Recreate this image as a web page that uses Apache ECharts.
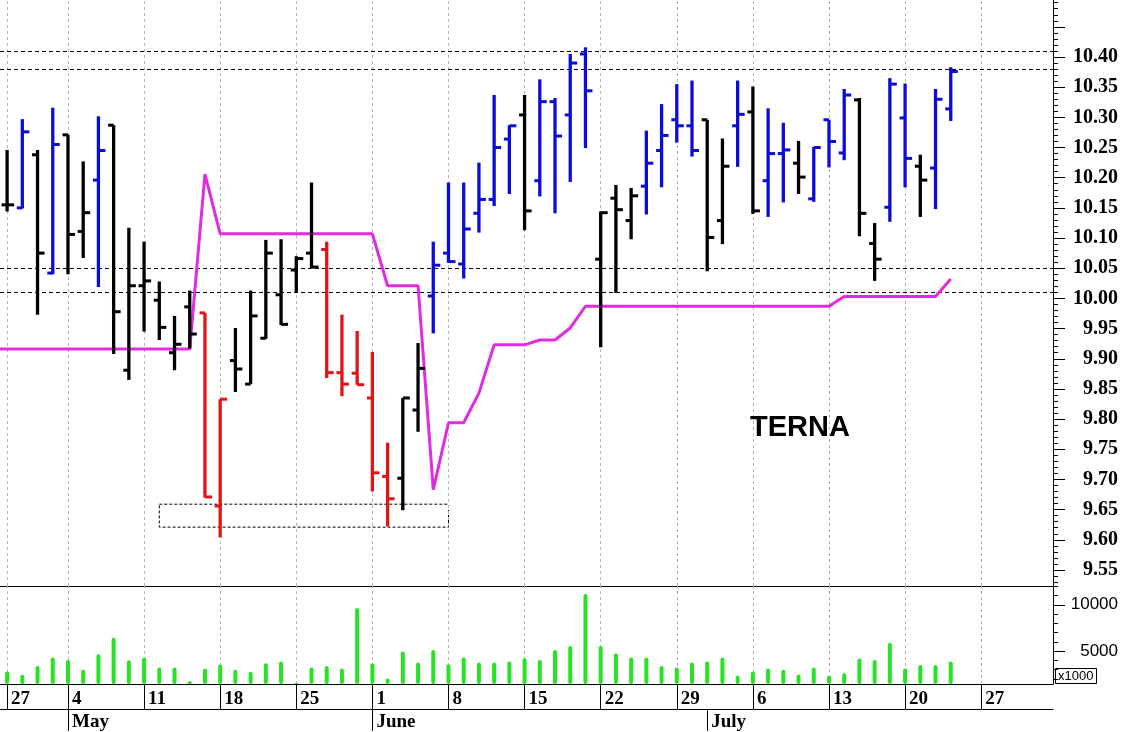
<!DOCTYPE html>
<html><head><meta charset="utf-8">
<script src="https://cdn.jsdelivr.net/npm/echarts@6/dist/echarts.min.js"></script>
<style>html,body{margin:0;padding:0;background:#fff}#c{width:1123px;height:732px}</style>
</head><body><div id="c"></div>
<script>
// ---- data ----
const days = ['04-24','04-27','04-28','04-29','04-30',
 '05-04','05-05','05-06','05-07','05-08','05-11','05-12','05-13','05-14','05-15',
 '05-18','05-19','05-20','05-21','05-22','05-25','05-26','05-27','05-28','05-29',
 '06-01','06-02','06-03','06-04','06-05','06-08','06-09','06-10','06-11','06-12',
 '06-15','06-16','06-17','06-18','06-19','06-22','06-23','06-24','06-25','06-26',
 '06-29','06-30','07-01','07-02','07-03','07-06','07-07','07-08','07-09','07-10',
 '07-13','07-14','07-15','07-16','07-17','07-20','07-21','07-22','07-23','07-24',
 '07-27','07-28','07-29','07-30','07-31'];
const open  = [10.17,10.155,10.150,10.238,10.042,10.271,10.111,10.196,10.287,9.881,10.021,9.997,9.910,9.986,9.976,9.656,9.897,9.858,9.934,10.006,10.047,10.075,10.081,9.877,9.876,9.835,9.705,9.702,9.815,10.004,10.075,10.057,10.141,10.164,10.264,10.304,10.195,10.326,10.304,10.405,10.065,10.166,10.129,10.186,10.245,10.296,10.286,10.296,10.129,10.286,10.309,10.195,10.240,10.224,10.165,10.296,10.241,10.329,10.091,10.151,10.299,10.219,10.216,10.314];
const high  = [10.23,10.246,10.297,10.246,10.316,10.271,10.227,10.302,10.287,10.117,10.094,10.028,9.971,10.013,9.976,9.833,9.951,10.013,10.097,10.098,10.070,10.192,10.094,9.973,9.946,9.911,9.761,9.835,9.926,10.094,10.192,10.192,10.225,10.337,10.287,10.337,10.363,10.332,10.405,10.416,10.144,10.188,10.183,10.278,10.322,10.355,10.361,10.296,10.265,10.361,10.351,10.315,10.291,10.261,10.251,10.296,10.347,10.332,10.125,10.365,10.356,10.238,10.347,10.383];
const low   = [10.15,10.144,10.149,9.973,10.040,10.040,10.067,10.019,9.908,9.865,9.945,9.931,9.881,9.917,9.670,9.604,9.845,9.858,9.933,9.956,10.009,10.050,9.868,9.838,9.857,9.680,9.622,9.649,9.779,9.942,10.059,10.033,10.109,10.153,10.173,10.113,10.169,10.141,10.193,10.249,9.919,10.009,10.098,10.139,10.184,10.258,10.235,10.045,10.090,10.218,10.140,10.135,10.159,10.173,10.160,10.217,10.229,10.103,10.029,10.127,10.184,10.135,10.148,10.294];
const close = [10.205,10.155,10.276,10.075,10.255,10.106,10.142,10.245,9.978,10.021,10.029,9.952,9.924,9.941,9.671,9.833,9.883,9.971,10.075,9.957,10.066,10.052,9.877,9.858,9.857,9.711,9.668,9.835,9.884,10.055,10.061,10.115,10.164,10.250,10.286,10.145,10.326,10.269,10.390,10.344,10.142,10.147,10.170,10.224,10.270,10.286,10.245,10.101,10.219,10.305,10.145,10.240,10.246,10.201,10.250,10.260,10.337,10.141,10.065,10.355,10.232,10.196,10.330,10.376];
// 1 = strong (blue), 0 = neutral (black), -1 = weak (red)
const signal = [1,0,1,0,1,0,0,1,0,0,0,0,0,0,-1,-1,0,0,0,0,0,0,-1,-1,-1,-1,-1,0,0,1,1,1,1,1,1,0,1,1,1,1,0,0,0,1,1,1,1,0,0,1,0,1,1,0,1,1,1,0,0,1,1,0,1,1];
const volume = [3000,2790,2430,3390,4290,4040,2970,4650,6430,4000,4290,3220,3220,1720,3120,3540,2970,2750,3680,3870,1540,3220,3390,3120,9650,3680,2040,4940,3760,5110,3580,4290,3760,3760,3870,4220,4040,5110,5540,11180,5540,4750,4290,4290,3390,3220,3760,3870,4290,2320,2790,3120,2970,2470,3220,2320,2610,4190,4040,5900,3120,3500,3500,3870];
const trend = [9.916,9.916,9.916,9.916,9.916,9.916,9.916,9.916,9.916,9.916,9.916,9.916,9.916,9.916,
 10.206,10.107,10.107,10.107,10.107,10.107,10.107,10.107,10.107,10.107,10.107,10.107,
 10.021,10.021,10.021,9.683,9.794,9.794,9.843,9.923,9.923,9.923,9.931,9.931,9.951,
 9.987,9.987,9.987,9.987,9.987,9.987,9.987,9.987,9.987,9.987,9.987,9.987,9.987,9.987,9.987,9.987,9.987,
 10.003,10.003,10.003,10.003,10.003,10.003,10.003,10.032];
const levels = [10.406, 10.378, 10.048, 10.009];
const zone = { from: '05-12', to: '06-08', low: 9.621, high: 9.659 };
const priceLabels = [9.55,9.60,9.65,9.70,9.75,9.80,9.85,9.90,9.95,10.00,10.05,10.10,10.15,10.20,10.25,10.30,10.35,10.40];
const volumeLabels = [5000, 10000];
const monthNames = ['January','February','March','April','May','June','July','August','September','October','November','December'];
const chartTitle = 'TERNA';
const volumeUnit = 'x1000';

// ---- derived ----
const dates = days.map(d => new Date('2015-' + d + 'T12:00:00'));
const DAY_PX = 15.22, FIRST_X = 7.1, PLOT_W = 1053;
const xMin = 1 - FIRST_X / DAY_PX, xMax = xMin + PLOT_W / DAY_PX;
const weekIdx = [], monthIdx = [];
dates.forEach((d, i) => {
  const p = dates[i - 1];
  if (i > 0 && d.getDay() <= p.getDay() && i >= xMin) weekIdx.push(i);
  if (i > 0 && d.getMonth() !== p.getMonth() && i >= xMin) monthIdx.push(i);
});
const pMax = 10.40 + 57 / 603.5, pMin = pMax - 586 / 603.5;
const vMin = 1435, vMax = 12034;
const r2 = v => Math.round(v * 100) / 100;
const priceMajor = [], priceMinor = [];
for (let k = 953; k <= 1049; k++) { const v = k / 100; if (k % 5 === 0) priceMajor.push(v); else priceMinor.push(v); }
const volMinor = []; for (let v = 2000; v <= 12000; v += 1000) if (v % 5000) volMinor.push(v);
const zoneFrom = days.indexOf(zone.from), zoneTo = days.indexOf(zone.to);

const colorOf = s => s > 0 ? '#0c0cd8' : (s < 0 ? '#e01414' : '#000000');
const ohlc = open.map((o, i) => [i, o, high[i], low[i], close[i], signal[i]]);

const serifBold = { fontFamily: 'Liberation Serif', fontWeight: 'bold', color: '#000' };
const weekLines = weekIdx.map(i => ({ xAxis: i, lineStyle: { color: '#b4b4b4', type: [3, 3], width: 1 } }));

const chart = echarts.init(document.getElementById('c'), null, { renderer: 'canvas' });
chart.setOption({
  animation: false,
  backgroundColor: '#fff',
  title: [
    { text: chartTitle, left: 750, top: 413, padding: 0,
      textStyle: { fontFamily: 'Liberation Sans', fontWeight: 'bold', fontSize: 29, lineHeight: 29, color: '#000' } },
    { text: volumeUnit, left: 1055, top: 668, padding: [1, 3, 0, 3], borderWidth: 1, borderColor: '#000',
      textStyle: { fontFamily: 'Liberation Sans', fontWeight: 'normal', fontSize: 13, lineHeight: 15, color: '#000' } }
  ],
  grid: [
    { left: 0, top: 0, width: PLOT_W, height: 586 },
    { left: 0, top: 586, width: PLOT_W, height: 99 }
  ],
  xAxis: [
    { gridIndex: 0, type: 'value', min: xMin, max: xMax,
      axisLine: { show: true, onZero: false, lineStyle: { color: '#000', width: 1 } },
      axisTick: { show: false }, axisLabel: { show: false }, splitLine: { show: false } },
    { gridIndex: 1, type: 'value', min: xMin, max: xMax, position: 'bottom',
      axisLine: { show: true, onZero: false, lineStyle: { color: '#000', width: 1 } },
      axisTick: { show: true, customValues: weekIdx, length: 25, lineStyle: { color: '#000', width: 1 } },
      axisLabel: Object.assign({ customValues: weekIdx, formatter: v => String(dates[Math.round(v)].getDate()),
        align: 'left', padding: [0, 0, 0, 4], margin: 6, fontSize: 19 }, serifBold),
      splitLine: { show: false } },
    { gridIndex: 1, type: 'value', min: xMin, max: xMax, position: 'bottom', offset: 25,
      axisLine: { show: true, onZero: false, lineStyle: { color: '#000', width: 1 } },
      axisTick: { show: true, customValues: monthIdx, length: 22, lineStyle: { color: '#000', width: 1 } },
      axisLabel: Object.assign({ customValues: monthIdx, formatter: v => monthNames[dates[Math.round(v)].getMonth()],
        align: 'left', padding: [0, 0, 0, 4], margin: 4, fontSize: 19 }, serifBold),
      splitLine: { show: false } }
  ],
  yAxis: [
    { gridIndex: 0, type: 'value', position: 'right', min: pMin, max: pMax,
      axisLine: { show: true, onZero: false, lineStyle: { color: '#000', width: 1 } },
      axisTick: { show: true, customValues: priceMajor, length: 12, lineStyle: { color: '#000', width: 1 } },
      axisLabel: Object.assign({ customValues: priceLabels, formatter: v => r2(v).toFixed(2),
        align: 'right', margin: 65, fontSize: 20 }, serifBold),
      splitLine: { show: false } },
    { gridIndex: 0, type: 'value', position: 'right', min: pMin, max: pMax,
      axisLine: { show: false, onZero: false },
      axisTick: { show: true, customValues: priceMinor, length: 5, lineStyle: { color: '#000', width: 1 } },
      axisLabel: { show: false }, splitLine: { show: false } },
    { gridIndex: 1, type: 'value', position: 'right', min: vMin, max: vMax,
      axisLine: { show: true, onZero: false, lineStyle: { color: '#000', width: 1 } },
      axisTick: { show: true, customValues: volumeLabels, length: 12, lineStyle: { color: '#000', width: 1 } },
      axisLabel: { customValues: volumeLabels, formatter: v => String(Math.round(v)), align: 'right', margin: 65,
        fontFamily: 'Liberation Sans', fontSize: 17, color: '#000' },
      splitLine: { show: false } },
    { gridIndex: 1, type: 'value', position: 'right', min: vMin, max: vMax,
      axisLine: { show: false, onZero: false },
      axisTick: { show: true, customValues: volMinor, length: 5, lineStyle: { color: '#000', width: 1 } },
      axisLabel: { show: false }, splitLine: { show: false } }
  ],
  series: [
    { name: 'trend', type: 'line', xAxisIndex: 0, yAxisIndex: 0, z: 3,
      data: trend.map((v, i) => [i, v]), symbol: 'none', showSymbol: false, clip: true,
      lineStyle: { color: '#e02be0', width: 3 }, silent: true,
      markLine: { z: 1, silent: true, symbol: ['none', 'none'], label: { show: false }, animation: false,
        emphasis: { disabled: true },
        data: weekLines.concat(levels.map(v => ({ yAxis: v, lineStyle: { color: '#000', type: [4, 3], width: 1 } }))) },
      markArea: { z: 1, silent: true, label: { show: false },
        itemStyle: { color: 'rgba(0,0,0,0)', borderColor: '#000', borderWidth: 1, borderType: [3, 2] },
        data: [[{ xAxis: zoneFrom, yAxis: zone.high }, { xAxis: zoneTo, yAxis: zone.low }]] } },
    { name: 'price', type: 'custom', xAxisIndex: 0, yAxisIndex: 0, z: 5, silent: true,
      dimensions: ['x', 'open', 'high', 'low', 'close', 'signal'],
      encode: { x: 0, y: [1, 2, 3, 4] },
      data: ohlc,
      renderItem: (params, api) => {
        const x = api.value(0);
        const pH = api.coord([x, api.value(2)]), pL = api.coord([x, api.value(3)]);
        const pO = api.coord([x, api.value(1)]), pC = api.coord([x, api.value(4)]);
        const col = colorOf(api.value(5));
        return { type: 'group', children: [
          { type: 'line', shape: { x1: pH[0], y1: pH[1], x2: pL[0], y2: pL[1] }, style: { stroke: col, lineWidth: 3.3 } },
          { type: 'line', shape: { x1: pO[0] - 5.5, y1: pO[1], x2: pO[0], y2: pO[1] }, style: { stroke: col, lineWidth: 3 } },
          { type: 'line', shape: { x1: pC[0], y1: pC[1], x2: pC[0] + 7, y2: pC[1] }, style: { stroke: col, lineWidth: 3 } }
        ] };
      } },
    { name: 'volume', type: 'bar', xAxisIndex: 1, yAxisIndex: 2, z: 3, silent: true,
      data: volume.map((v, i) => [i, v]), barWidth: 4,
      itemStyle: { color: '#26e326', borderRadius: 2 },
      markLine: { z: 1, silent: true, symbol: ['none', 'none'], label: { show: false }, animation: false,
        emphasis: { disabled: true }, data: weekLines } }
  ]
});
</script></body></html>
